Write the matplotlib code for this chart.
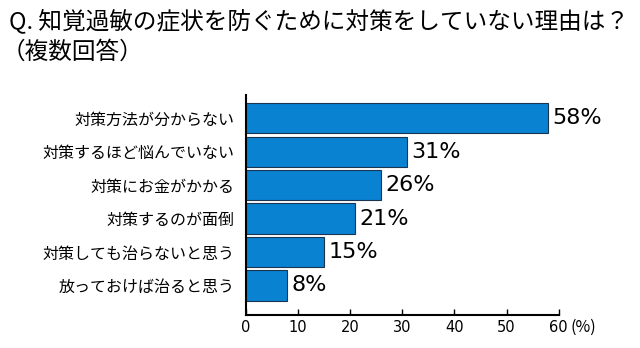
import matplotlib.pyplot as plt
from matplotlib.transforms import offset_copy

plt.rcParams['font.family'] = ['Noto Sans CJK JP', 'DejaVu Sans']

# データ
reasons = ["対策方法が分からない", "対策するほど悩んでいない", "対策にお金がかかる",
           "対策するのが面倒", "対策しても治らないと思う", "放っておけば治ると思う"]
percents = [58, 31, 26, 21, 15, 8]
xticks = [0, 10, 20, 30, 40, 50, 60]

fig = plt.figure(figsize=(6.4, 3.48), dpi=100)
ax = fig.add_axes([0.384, 0.095, 0.489, 0.632])

pos = list(range(len(reasons)))
ax.barh(pos, percents, height=0.9, color='#0a82d2', edgecolor='#1a3550', linewidth=0.8)

# 値ラベル
for y, v in zip(pos, percents):
    ax.text(v + 0.8, y, f"{v}%", va='center', ha='left', fontsize=16,
            family='DejaVu Sans', color='black')

ax.set_ylim(len(reasons) - 1 + 0.88, -0.69)
ax.set_xlim(0, 60)
ax.set_xticks(xticks)
ax.set_xticklabels([str(t) for t in xticks], fontsize=10.5, family='DejaVu Sans')
ax.set_yticks(pos)
ax.set_yticklabels(reasons, fontsize=11.5)
ax.tick_params(axis='x', direction='in', length=4, width=1, pad=4)
ax.tick_params(axis='y', length=0, pad=8)
ax.spines['top'].set_visible(False)
ax.spines['right'].set_visible(False)
ax.spines['left'].set_linewidth(1.5)
ax.spines['bottom'].set_linewidth(1.5)

# 単位
tr = offset_copy(ax.get_xaxis_transform(), fig=fig, x=0, y=-3, units='points')
ax.text(62.3, 0, "(%)", fontsize=11.5, ha='left', va='top', transform=tr, clip_on=False)

fig.text(0.014, 0.94, "Q. 知覚過敏の症状を防ぐために対策をしていない理由は？", fontsize=17, ha='left', va='center')
fig.text(0.003, 0.85, "（複数回答）", fontsize=17, ha='left', va='center')

fig.savefig('out.png', dpi=100, facecolor='white')
